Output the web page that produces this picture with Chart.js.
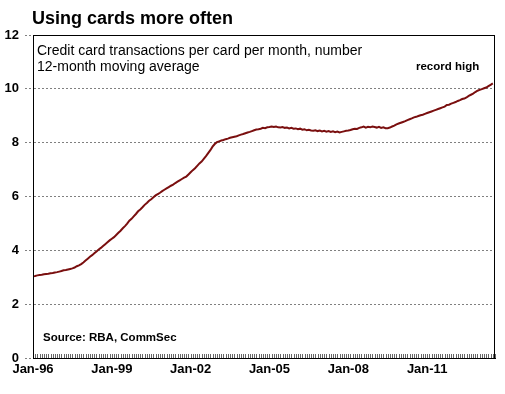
<!DOCTYPE html>
<html><head><meta charset="utf-8">
<script src="https://cdn.jsdelivr.net/npm/chart.js@4/dist/chart.umd.min.js"></script>
<style>html,body{margin:0;padding:0;background:#fff}</style>
</head><body>
<canvas id="c" width="505" height="394"></canvas>
<script>
// ---- data ----
const titleText = 'Using cards more often';
const subtitleLines = ['Credit card transactions per card per month, number', '12-month moving average'];
const sourceText = 'Source: RBA, CommSec';
const noteText = 'record high';
const tickMonths = [0, 36, 72, 108, 144, 180];           // months since Jan-96
const tickLabels = ['Jan-96', 'Jan-99', 'Jan-02', 'Jan-05', 'Jan-08', 'Jan-11'];
const yTicks = [0, 2, 4, 6, 8, 10, 12];
// monthly values, Jan-96 .. Jul-13
const values1996 = [3.04,3.05,3.07,3.08,3.09,3.11,3.12,3.13,3.15,3.16,3.18,3.19];
const values1997 = [3.21,3.23,3.26,3.27,3.29,3.31,3.33,3.36,3.41,3.44,3.49,3.55];
const values1998 = [3.62,3.69,3.76,3.82,3.89,3.96,4.03,4.09,4.16,4.23,4.30,4.37];
const values1999 = [4.43,4.49,4.57,4.65,4.73,4.82,4.90,4.99,5.10,5.17,5.26,5.35];
const values2000 = [5.45,5.52,5.60,5.69,5.76,5.84,5.90,5.97,6.04,6.09,6.14,6.20];
const values2001 = [6.25,6.30,6.35,6.40,6.44,6.50,6.55,6.60,6.65,6.70,6.74,6.82];
const values2002 = [6.90,6.98,7.05,7.14,7.23,7.30,7.40,7.50,7.61,7.72,7.85,7.95];
const values2003 = [8.02,8.05,8.08,8.10,8.13,8.15,8.18,8.20,8.22,8.24,8.27,8.30];
const values2004 = [8.32,8.35,8.38,8.40,8.43,8.46,8.49,8.50,8.52,8.55,8.54,8.57];
const values2005 = [8.58,8.60,8.58,8.60,8.57,8.56,8.58,8.55,8.56,8.53,8.55,8.52];
const values2006 = [8.53,8.50,8.52,8.48,8.50,8.46,8.48,8.45,8.44,8.46,8.43,8.45];
const values2007 = [8.42,8.44,8.41,8.43,8.40,8.42,8.39,8.41,8.38,8.40,8.42,8.44];
const values2008 = [8.45,8.47,8.50,8.52,8.51,8.55,8.57,8.60,8.56,8.59,8.57,8.60];
const values2009 = [8.58,8.56,8.59,8.55,8.57,8.54,8.54,8.56,8.60,8.63,8.68,8.71];
const values2010 = [8.74,8.77,8.80,8.84,8.87,8.90,8.94,8.96,8.99,9.02,9.04,9.07];
const values2011 = [9.10,9.13,9.16,9.19,9.22,9.25,9.28,9.31,9.34,9.40,9.41,9.45];
const values2012 = [9.48,9.51,9.55,9.58,9.62,9.64,9.68,9.74,9.78,9.82,9.88,9.93];
const values2013 = [9.96,9.99,10.02,10.05,10.10,10.15,10.20];
const values = [].concat(values1996,values1997,values1998,values1999,values2000,values2001,
  values2002,values2003,values2004,values2005,values2006,values2007,values2008,values2009,
  values2010,values2011,values2012,values2013);
const monthIndex = values.map((v, i) => i);

const FONT = "'Liberation Sans', Arial, sans-serif";

const decor = {
  id: 'decor',
  beforeDatasetsDraw(chart) {
    const {ctx, chartArea: a, scales: {x}} = chart;
    ctx.save();
    ctx.strokeStyle = '#666';
    ctx.lineWidth = 1;
    ctx.beginPath();
    for (let m = 0; m <= x.max; m++) {
      const px = Math.round(x.getPixelForValue(m)) + 0.5;
      ctx.moveTo(px, a.bottom);
      ctx.lineTo(px, a.bottom - 4);
    }
    ctx.stroke();
    ctx.restore();
  },
  afterDraw(chart) {
    const {ctx, chartArea: a} = chart;
    ctx.save();
    ctx.strokeStyle = '#000';
    ctx.lineWidth = 1;
    ctx.strokeRect(Math.round(a.left) + 0.5, Math.round(a.top) + 0.5,
                   Math.round(a.right - a.left) - 1, Math.round(a.bottom - a.top));
    ctx.fillStyle = '#000';
    ctx.textBaseline = 'alphabetic';
    ctx.textAlign = 'left';
    ctx.font = 'bold 18px ' + FONT;
    ctx.fillText(titleText, 32, 24);
    ctx.font = '14px ' + FONT;
    ctx.fillText(subtitleLines[0], 37, 55);
    ctx.fillText(subtitleLines[1], 37, 71);
    ctx.font = 'bold 11.5px ' + FONT;
    ctx.fillText(sourceText, 43, 341);
    ctx.fillText(noteText, 416, 70);
    ctx.restore();
  }
};

new Chart(document.getElementById('c'), {
  type: 'line',
  data: {
    datasets: [{
      data: values.map((v, i) => ({x: monthIndex[i], y: v})),
      borderColor: '#7a0f0f',
      borderWidth: 2,
      pointRadius: 0,
      tension: 0,
      fill: false
    }]
  },
  options: {
    responsive: false,
    animation: false,
    events: [],
    layout: {padding: {top: 35, right: 10, left: 0, bottom: 0}},
    plugins: {legend: {display: false}, tooltip: {enabled: false}, title: {display: false}},
    scales: {
      x: {
        type: 'linear',
        min: 0,
        max: 211,
        afterFit(s) { s.height = 36; },
        afterBuildTicks(s) { s.ticks = tickMonths.map(v => ({value: v})); },
        grid: {display: false, drawTicks: false},
        border: {display: true, color: '#000', width: 1},
        ticks: {
          padding: 4,
          maxRotation: 0,
          autoSkip: false,
          color: '#000',
          font: {family: FONT, size: 13, weight: 'bold'},
          callback: (v) => tickLabels[tickMonths.indexOf(v)]
        }
      },
      y: {
        min: 0,
        max: 12,
        afterFit(s) { s.width = 33; },
        afterBuildTicks(s) { s.ticks = yTicks.map(v => ({value: v})); },
        grid: {
          color: '#808080',
          lineWidth: 1,
          tickLength: 8,
          tickColor: '#808080',
          tickBorderDash: [2, 2]
        },
        border: {display: true, color: '#000', width: 1, dash: [2, 2]},
        ticks: {
          padding: 6,
          color: '#000',
          font: {family: FONT, size: 13, weight: 'bold'}
        }
      }
    }
  },
  plugins: [decor]
});
</script>
</body></html>
